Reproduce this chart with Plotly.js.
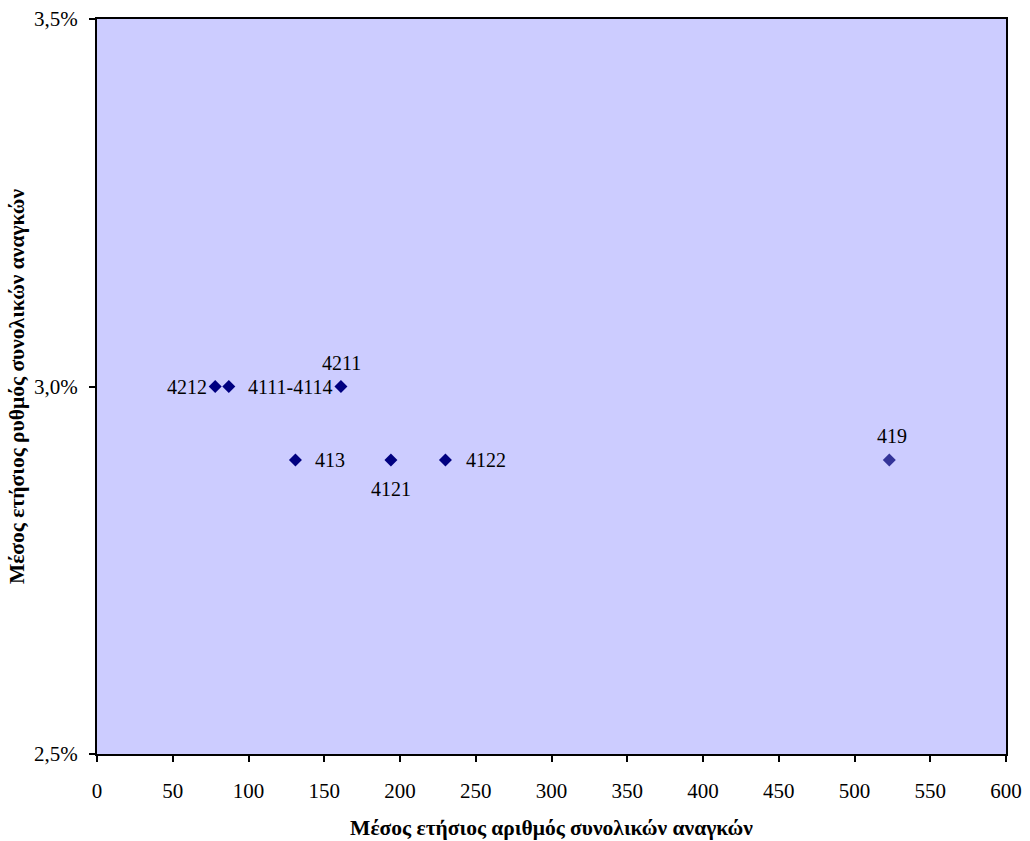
<!DOCTYPE html>
<html>
<head>
<meta charset="utf-8">
<script src="https://cdn.plot.ly/plotly-3.0.1.min.js"></script>
<style>body{margin:0;padding:0;background:#fff}#chart{width:1030px;height:841px}</style>
</head>
<body>
<div id="chart"></div>
<script>
var labels = ['4212', '4111-4114', '4211', '413', '4121', '4122', '419'];
var xValues = [78, 87, 161, 131, 194, 230, 523];
var yValues = [0.030, 0.030, 0.030, 0.029, 0.029, 0.029, 0.029];
var yTickVals = [0.025, 0.030, 0.035];
var yTickText = ['2,5%', '3,0%', '3,5%'];
var xTickVals = [0, 50, 100, 150, 200, 250, 300, 350, 400, 450, 500, 550, 600];

// label placement (style only)
var labelStyle = [
  {xanchor: 'right', yanchor: 'middle', xshift: -6, yshift: 0},
  {xanchor: 'left', yanchor: 'middle', xshift: 17, yshift: 0},
  {xanchor: 'center', yanchor: 'middle', xshift: 1, yshift: 24},
  {xanchor: 'left', yanchor: 'middle', xshift: 18, yshift: 0},
  {xanchor: 'center', yanchor: 'middle', xshift: 0, yshift: -29},
  {xanchor: 'left', yanchor: 'middle', xshift: 19, yshift: 0},
  {xanchor: 'center', yanchor: 'middle', xshift: 3, yshift: 24}
];
var markerColors = ['#000080', '#000080', '#000080', '#000080', '#000080', '#000080', '#333399'];

var serif = 'Liberation Serif, Times New Roman, serif';
var trace = {
  x: xValues, y: yValues, mode: 'markers', type: 'scatter',
  marker: {symbol: 'diamond', size: 10, color: markerColors},
  hoverinfo: 'none', cliponaxis: false
};

var annotations = labels.map(function (t, i) {
  var s = labelStyle[i];
  return {x: xValues[i], y: yValues[i], xref: 'x', yref: 'y', text: t, showarrow: false,
    xanchor: s.xanchor, yanchor: s.yanchor, xshift: s.xshift, yshift: s.yshift,
    font: {family: serif, size: 20, color: '#000'}};
});

var font = {family: serif, size: 21, color: '#000'};
var titleFont = {family: serif, size: 21.5, color: '#000', weight: 'bold'};
var layout = {
  width: 1030, height: 841,
  margin: {l: 97, r: 24, t: 19, b: 87},
  paper_bgcolor: '#fff', plot_bgcolor: '#ccccff',
  showlegend: false, font: font, annotations: annotations,
  xaxis: {
    range: [0, 600], tickvals: xTickVals, ticks: 'outside', ticklen: 6, tickwidth: 2, tickcolor: '#000',
    showline: true, linecolor: '#000', linewidth: 2, mirror: true, showgrid: false, zeroline: false,
    tickfont: font, ticklabelstandoff: 11, automargin: false,
    title: {text: 'Μέσος ετήσιος αριθμός συνολικών αναγκών', font: titleFont, standoff: 18}
  },
  yaxis: {
    range: [0.025, 0.035], tickvals: yTickVals, ticktext: yTickText, ticks: 'outside', ticklen: 6, tickwidth: 2, tickcolor: '#000',
    showline: true, linecolor: '#000', linewidth: 2, mirror: true, showgrid: false, zeroline: false,
    tickfont: font, ticklabelstandoff: 7, automargin: false,
    title: {text: 'Μέσος ετήσιος ρυθμός συνολικών αναγκών', font: titleFont, standoff: 4}
  }
};
Plotly.newPlot('chart', [trace], layout, {displayModeBar: false, staticPlot: true});
</script>
</body>
</html>
